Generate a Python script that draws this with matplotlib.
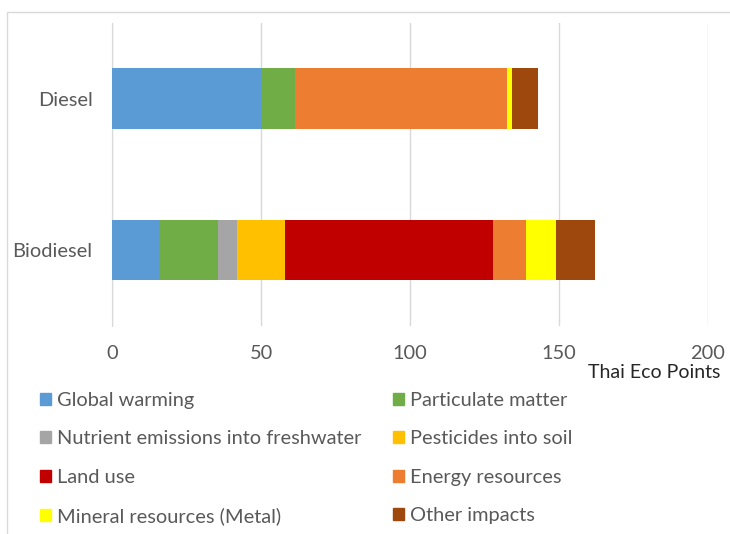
import matplotlib
matplotlib.use('Agg')
import matplotlib.pyplot as plt
from matplotlib.patches import Patch, Rectangle
from matplotlib import rcParams
import numpy as np

rcParams['font.family'] = ['Lato', 'DejaVu Sans']

fuels = ['Biodiesel', 'Diesel']
impacts = ['Global warming', 'Particulate matter',
           'Nutrient emissions into freshwater', 'Pesticides into soil',
           'Land use', 'Energy resources',
           'Mineral resources (Metal)', 'Other impacts']
# values per impact: [Biodiesel, Diesel]
global_warming = [16.0, 49.9]
particulate = [19.5, 11.4]
nutrient = [6.5, 0.0]
pesticides = [16.1, 0.0]
land_use = [69.7, 0.0]
energy = [11.2, 71.4]
mineral = [9.9, 1.6]
other = [13.2, 8.5]
series = [global_warming, particulate, nutrient, pesticides,
          land_use, energy, mineral, other]
colors = ['#5B9BD5', '#70AD47', '#A5A5A5', '#FFC000',
          '#C00000', '#ED7D31', '#FFFF00', '#9E480E']

fs = 14.4

fig = plt.figure(figsize=(7.3, 5.34), dpi=100)
ax = fig.add_axes([0.1534, 0.390, 0.8164, 0.567])

y = np.arange(len(fuels))
left = np.zeros(len(fuels))
for vals, c in zip(series, colors):
    ax.barh(y, vals, left=left, height=0.4, color=c, zorder=3)
    left += np.array(vals)

ax.set_xlim(0, 200)
ax.set_ylim(-0.5, 1.5)
ax.set_xticks([0, 50, 100, 150, 200])
ax.set_yticks(y)
ax.set_yticklabels(fuels)
ax.grid(axis='x', color='#D9D9D9', lw=1, zorder=0)
for s in ['top', 'right', 'bottom']:
    ax.spines[s].set_visible(False)
ax.spines['left'].set_color('#D9D9D9')
ax.tick_params(length=0, labelsize=fs, colors='#595959')
ax.tick_params(axis='x', pad=14)
ax.tick_params(axis='y', pad=14)

fig.text(720/730, 1-372/534, 'Thai Eco Points', ha='right', va='center',
         fontsize=14, color='#262626')

order = [0, 2, 4, 6, 1, 3, 5, 7]
handles = [Patch(color=colors[i]) for i in order]
labels = [impacts[i] for i in order]
fig.legend(handles, labels, ncol=2, loc='upper left',
           bbox_to_anchor=(40/730, 1-392/534), frameon=False,
           borderpad=0, borderaxespad=0,
           fontsize=fs, labelcolor='#595959', handlelength=0.55,
           handleheight=0.55, handletextpad=0.3, labelspacing=1.07,
           columnspacing=1.6)

# chart frame (cropped on right and bottom)
fig.patches.append(Rectangle((6.5/730, -0.1), 1.2, 1-11.5/534+0.1,
                             transform=fig.transFigure, fill=False,
                             edgecolor='#D9D9D9', lw=1))

fig.savefig('out.png', dpi=100)
